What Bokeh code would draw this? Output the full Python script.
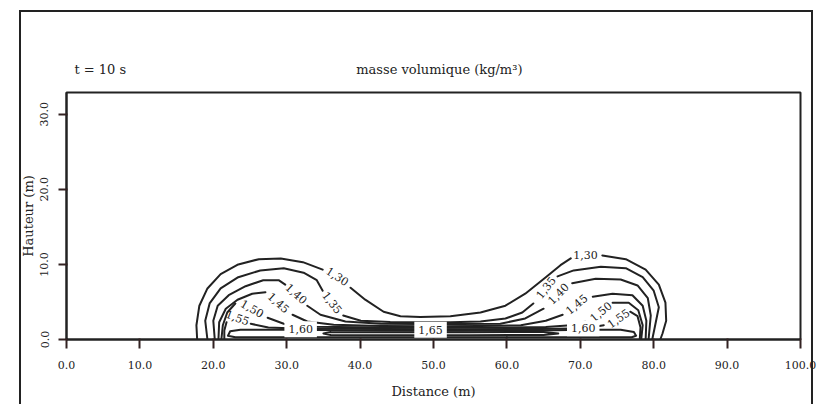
from bokeh.plotting import figure
from bokeh.models import (Range1d, FixedTicker, PrintfTickFormatter, LinearAxis,
                          InlineStyleSheet)
from bokeh.core.properties import value
from bokeh.embed import file_html
from bokeh.resources import INLINE

# ---- data (metres) ----
x_ticks = [0, 10, 20, 30, 40, 50, 60, 70, 80, 90, 100]
y_ticks = [0, 10, 20, 30]

# each contour level: list of polyline segments (gaps where labels sit)
c130_x = [[17.8, 17.7, 18.1, 19.2, 21.0, 23.4, 26.2, 29.2, 32.2, 34.9],
          [38.7, 40.7, 43.2, 45.5, 48.2, 52.3, 56.4, 59.8, 62.5, 65.3, 67.3, 68.7],
          [73.0, 76.2, 78.9, 80.7, 81.6, 81.7, 81.2, 80.9]]
c130_y = [[0.0, 1.9, 4.5, 6.8, 8.7, 10.0, 10.7, 10.8, 10.3, 9.3],
          [6.9, 5.3, 3.7, 3.1, 3.0, 3.1, 3.6, 4.5, 6.1, 8.3, 9.9, 10.8],
          [11.2, 10.7, 9.3, 7.3, 4.9, 2.5, 0.8, 0.0]]

c135_x = [[19.2, 18.9, 19.5, 21.0, 23.4, 26.4, 29.6, 32.3, 34.1, 34.9],
          [37.7, 40.1, 44.1, 48.2, 52.3, 56.4, 59.8, 62.1, 63.6],
          [66.9, 69.1, 72.8, 76.2, 78.5, 80.0, 80.7, 80.2, 79.8]]
c135_y = [[0.0, 2.5, 4.8, 6.8, 8.3, 9.2, 9.5, 8.9, 7.9, 6.5],
          [3.2, 2.5, 2.33, 2.3, 2.3, 2.4, 2.8, 3.6, 4.8],
          [8.4, 9.2, 9.7, 9.5, 8.3, 6.5, 4.3, 1.9, 0.0]]

c140_x = [[20.2, 20.0, 20.6, 22.1, 24.4, 26.8, 28.9, 29.8],
          [32.8, 34.6, 38.0, 42.8, 48.2, 53.7, 59.1, 62.5, 65.0],
          [68.9, 72.1, 75.5, 77.8, 79.2, 79.6, 79.3]]
c140_y = [[0.0, 2.5, 4.5, 5.9, 7.1, 7.9, 7.9, 7.3],
          [4.5, 3.3, 2.4, 2.1, 2.05, 2.05, 2.1, 2.8, 4.1],
          [7.5, 8.1, 8.0, 7.2, 5.5, 3.2, 0.0]]

c145_x = [[20.7, 20.8, 21.7, 23.3, 25.3, 27.1],
          [30.8, 32.8, 36.4, 42.8, 49.6, 56.4, 61.9, 65.3, 67.6],
          [71.7, 74.4, 77.1, 78.5, 79.0, 78.9]]
c145_y = [[0.0, 2.3, 4.1, 5.3, 6.1, 6.3],
          [3.3, 2.4, 1.95, 1.8, 1.78, 1.8, 1.9, 2.5, 3.3],
          [5.7, 6.1, 5.9, 4.5, 2.5, 0.0]]

c150_x = [[21.1, 21.3, 21.9, 23.0],
          [27.4, 29.6, 33.9, 42.8, 51.0, 59.1, 65.3, 68.7, 70.7],
          [74.4, 76.6, 77.9, 78.5, 78.3]]
c150_y = [[0.0, 1.9, 3.6, 4.8],
          [2.9, 2.1, 1.7, 1.6, 1.58, 1.6, 1.65, 1.9, 2.4],
          [4.9, 4.9, 3.9, 1.9, 0.0]]

c155_x = [[21.5, 21.5, 21.8],
          [25.1, 27.5, 31.2, 42.8, 53.7, 64.6, 70.7, 73.2],
          [76.8, 77.8, 78.2, 78.1]]
c155_y = [[0.0, 1.2, 2.3],
          [2.1, 1.6, 1.45, 1.4, 1.38, 1.4, 1.5, 1.9],
          [3.7, 3.1, 1.6, 0.0]]

c160_x = [[29.8, 26.4, 23.7, 22.3, 22.0, 23.0, 40.0, 60.0],
          [34.1, 42.8, 53.7, 64.6, 68.3],
          [72.6, 75.5, 77.3, 77.6, 77.0, 60.0]]
c160_y = [[1.3, 1.3, 1.3, 1.1, 0.5, 0.3, 0.3, 0.3],
          [1.25, 1.2, 1.18, 1.2, 1.25],
          [1.3, 1.3, 1.0, 0.5, 0.3, 0.3]]

c165_x = [[36.0, 45.0, 55.0, 65.0, 67.0, 65.0, 55.0, 45.0, 36.0, 35.0, 36.0]]
c165_y = [[1.0, 0.98, 0.98, 1.0, 0.8, 0.6, 0.58, 0.58, 0.6, 0.8, 1.0]]

lab_text = ["1,30", "1,30", "1,35", "1,35", "1,40", "1,40", "1,45", "1,45",
            "1,50", "1,50", "1,55", "1,55"]
lab_x = [36.9, 70.7, 36.2, 65.3, 31.3, 67.0, 28.9, 69.5, 25.3, 72.8, 23.3, 75.2]
lab_y = [8.4, 11.3, 4.9, 6.9, 6.1, 6.1, 4.9, 4.7, 4.1, 3.7, 2.9, 2.8]
lab_angle = [-33, 0, -52, 52, -42, 45, -42, 40, -30, 40, -20, 35]
flat_text = ["1,60", "1,65", "1,60"]
flat_x = [31.9, 49.6, 70.4]
flat_y = [1.35, 1.3, 1.5]

head_pos = [4.6, 50.8]
head_text = ["t = 10 s", "masse volumique (kg/m³)"]

INK = "#222222"
TICK = "#332222"
SERIF = "DejaVu Serif"

p = figure(width=819, height=404, frame_width=734, frame_height=247,
           min_border_left=66, min_border_right=19, min_border_top=92, min_border_bottom=65,
           x_range=Range1d(0, 100), y_range=Range1d(0, 32.9),
           output_backend="svg", toolbar_location=None,
           background_fill_color="white", border_fill_color="white")

p.stylesheets = [InlineStyleSheet(css="""
:host { position: relative; }
:host::after { content: ''; position: absolute; left: 19px; top: 10px;
  width: 794px; height: 394px; border-top: 2px solid #222; border-left: 2px solid #222;
  border-right: 2px solid #222; box-sizing: border-box; pointer-events: none; }
""")]

p.grid.visible = False
p.outline_line_color = INK
p.outline_line_width = 2

for ax in (p.xaxis[0], p.yaxis[0]):
    ax.axis_line_color = INK
    ax.axis_line_width = 2
    ax.major_tick_line_color = TICK
    ax.major_tick_line_width = 2
    ax.major_tick_in = 1
    ax.minor_tick_line_color = None
    ax.major_label_text_font = SERIF
    ax.major_label_text_font_size = "11px"
    ax.major_label_text_color = INK
    ax.axis_label_text_font = SERIF
    ax.axis_label_text_font_size = "13px"
    ax.axis_label_text_font_style = "normal"
    ax.axis_label_text_color = INK
    ax.formatter = PrintfTickFormatter(format="%.1f")

p.xaxis.ticker = FixedTicker(ticks=x_ticks, minor_ticks=[])
p.yaxis.ticker = FixedTicker(ticks=y_ticks, minor_ticks=[])
p.xaxis.major_tick_out = 9
p.yaxis.major_tick_out = 8
p.xaxis.major_label_standoff = 12
p.yaxis.major_label_standoff = 10
p.yaxis.major_label_orientation = "vertical"
p.xaxis.axis_label = "Distance (m)"
p.yaxis.axis_label = "Hauteur (m)"
p.xaxis.axis_label_standoff = 12
p.yaxis.axis_label_standoff = 2

# heading texts as labels of an invisible top axis
top = LinearAxis(ticker=FixedTicker(ticks=head_pos, minor_ticks=[]),
                 major_label_overrides={head_pos[0]: head_text[0], head_pos[1]: head_text[1]},
                 axis_line_color=None, major_tick_line_color=None, minor_tick_line_color=None,
                 major_label_standoff=10, major_label_text_font=SERIF,
                 major_label_text_font_size="13px", major_label_text_color=INK)
p.add_layout(top, "above")

all_x, all_y = [], []
for sx, sy in [(c130_x, c130_y), (c135_x, c135_y), (c140_x, c140_y), (c145_x, c145_y),
               (c150_x, c150_y), (c155_x, c155_y), (c160_x, c160_y), (c165_x, c165_y)]:
    all_x += sx
    all_y += sy
p.multi_line(all_x, all_y, line_color=INK, line_width=2, line_join="round", line_cap="round")

p.text(x=lab_x, y=lab_y, text=lab_text, angle=lab_angle, angle_units="deg",
       text_font=value(SERIF), text_font_size="11px", text_color=INK,
       text_align="center", text_baseline="middle")
p.text(x=flat_x, y=flat_y, text=flat_text,
       text_font=value(SERIF), text_font_size="11px", text_color=INK,
       text_align="center", text_baseline="middle",
       background_fill_color="white", padding=4)

open("out.html", "w").write(file_html(p, INLINE))
